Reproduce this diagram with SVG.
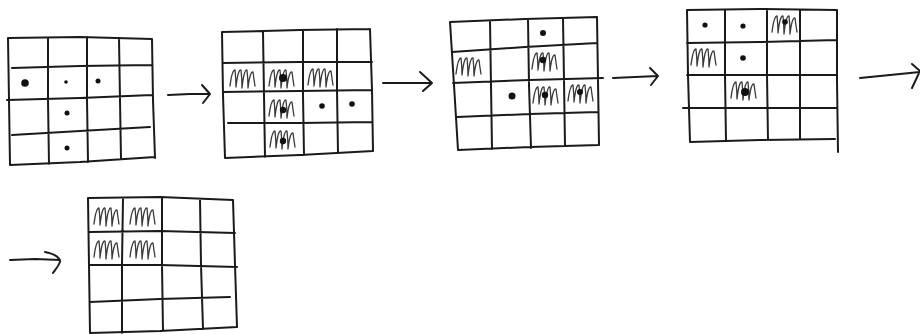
<svg xmlns="http://www.w3.org/2000/svg" width="920" height="334" viewBox="0 0 920 334">
<style>
.g{fill:none;stroke:#1a1a1a;stroke-width:2;stroke-linecap:round;stroke-linejoin:round}
.a{fill:none;stroke:#1a1a1a;stroke-width:2;stroke-linecap:round;stroke-linejoin:round}
.s{fill:none;stroke:#3a3a3a;stroke-width:1.3;stroke-linecap:round;stroke-linejoin:round}
.d{fill:#111}
</style>
<defs>
<path id="scr" d="M0,19 Q2,3 5,3 Q6,12 6,20 Q8,2 11,3 Q12,12 12,21 Q14,2 17,3 Q18,12 18,21 Q20,4 23,5 Q24,13 25,19"/>
</defs>
<rect width="920" height="334" fill="#fff"/>

<g id="grid1">
<path class="g" d="M8,38 L80,37 L152,39 M8,38 L9,100 L10,165 M152,39 L153,100 L155,158 M10,165 L80,162 L155,157 M48,38 L48,100 L49,164 M87,37 L87,100 L88,162 M119,38 L120,100 L121,159 M12,68 L80,66 L152,65 M7,100 L80,98 L152,95 M12,135 L80,131 L150,127"/>
<circle class="d" cx="25" cy="83" r="3.8"/>
<circle class="d" cx="66" cy="82" r="1.8"/>
<circle class="d" cx="98" cy="81" r="2.5"/>
<circle class="d" cx="67" cy="113" r="2.5"/>
<circle class="d" cx="67" cy="148" r="2.5"/>
</g>

<g id="grid2">
<path class="g" d="M222,32 L300,30 L370,29 M222,32 L223,95 L225,158 M370,29 L372,90 L373,151 M225,158 L300,155 L373,151 M263,32 L264,95 L265,157 M303,30 L303,95 L304,155 M337,29 L337,90 L338,153 M223,63 L300,62 L372,62 M223,92 L300,91 L372,90 M228,123 L300,123 L372,122"/>
<use class="s" href="#scr" x="230" y="67"/>
<use class="s" href="#scr" x="269" y="67"/>
<use class="s" href="#scr" x="308" y="66"/>
<use class="s" href="#scr" x="269" y="97"/>
<use class="s" href="#scr" x="270" y="128"/>
<circle class="d" cx="283" cy="78" r="4"/>
<circle class="d" cx="283" cy="110" r="3.2"/>
<circle class="d" cx="322" cy="106" r="2.8"/>
<circle class="d" cx="352" cy="104" r="2.8"/>
<circle class="d" cx="283" cy="141" r="3.2"/>
</g>

<g id="grid3">
<path class="g" d="M450,22 L525,19 L597,17 M450,22 L454,85 L458,150 M597,17 L598,80 L599,145 M458,150 L530,147 L599,145 M490,21 L491,85 L492,149 M528,19 L529,85 L531,148 M563,18 L564,80 L565,146 M452,52 L525,47 L597,43 M453,83 L530,80 L603,78 M457,117 L530,114 L598,112"/>
<use class="s" href="#scr" x="456" y="55"/>
<use class="s" href="#scr" x="532" y="50"/>
<use class="s" href="#scr" x="533" y="84"/>
<use class="s" href="#scr" x="568" y="82"/>
<circle class="d" cx="543" cy="33" r="3"/>
<circle class="d" cx="543" cy="60" r="3.2"/>
<circle class="d" cx="512" cy="96" r="3.5"/>
<circle class="d" cx="545" cy="95" r="3.2"/>
<circle class="d" cx="580" cy="92" r="3"/>
</g>

<g id="grid4">
<path class="g" d="M687,10 L760,9 L837,10 M687,10 L688,75 L690,142 M837,10 L837,80 L838,152 M690,142 L760,140 L835,139 M725,10 L725,75 L726,141 M767,9 L767,75 L768,140 M800,10 L800,75 L800,139 M687,43 L760,42 L837,40 M687,75 L760,75 L837,75 M683,108 L760,108 L837,108"/>
<use class="s" href="#scr" x="772" y="13"/>
<use class="s" href="#scr" x="691" y="46"/>
<use class="s" href="#scr" x="731" y="79"/>
<circle class="d" cx="705" cy="25" r="2.6"/>
<circle class="d" cx="743" cy="26" r="2.6"/>
<circle class="d" cx="785" cy="22" r="2.8"/>
<circle class="d" cx="743" cy="58" r="2.8"/>
<circle class="d" cx="745" cy="92" r="4"/>
</g>

<g id="grid5">
<path class="g" d="M88,198 L160,197 L233,200 M88,198 L89,265 L90,333 M233,200 L235,265 L237,327 M90,333 L160,331 L237,327 M123,198 L122,265 L122,333 M162,198 L162,265 L163,331 M200,199 L201,265 L203,329 M90,232 L160,231 L235,233 M90,265 L160,265 L237,267 M90,302 L160,299 L230,297"/>
<use class="s" href="#scr" x="94" y="205"/>
<use class="s" href="#scr" x="130" y="205"/>
<use class="s" href="#scr" x="94" y="238"/>
<use class="s" href="#scr" x="130" y="238"/>
</g>

<g id="connectors">
<path class="a" d="M168,95 L190,94 L210,94 M202,85 L210,94 L203,103"/>
<path class="a" d="M383,83 L410,83 L432,83 M420,72 L432,83 L423,91"/>
<path class="a" d="M613,78 L635,77 L658,76 M650,68 L658,76 L651,85"/>
<path class="a" d="M860,78 L890,75 L920,72 M912,64 L920,71 L912,88"/>
<path class="a" d="M10,260 L35,259 L60,260 M45,252 C55,254 60,258 60,262 C58,267 55,270 53,273"/>
</g>
</svg>
